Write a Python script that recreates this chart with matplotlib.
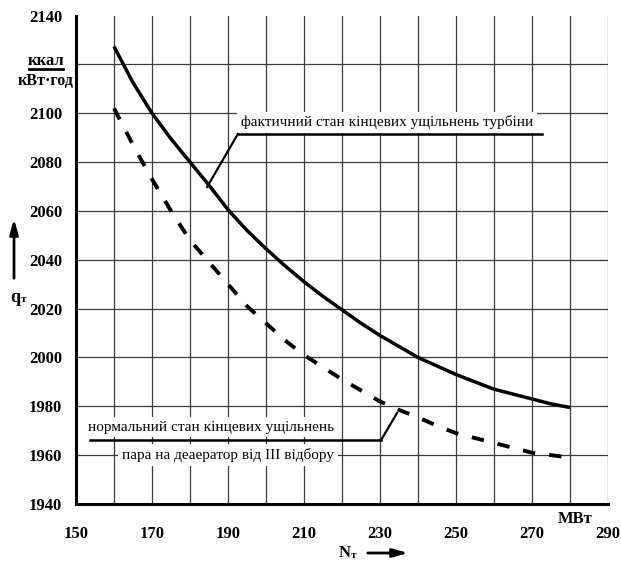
import matplotlib
matplotlib.use("Agg")
import matplotlib.pyplot as plt
from matplotlib.lines import Line2D

plt.rcParams["font.family"] = ["Liberation Serif", "DejaVu Serif"]

# фактичний стан кінцевих ущільнень турбіни
n_actual = [160, 165, 170, 175, 180, 185, 190, 195, 200, 205, 210, 215, 220,
            225, 230, 235, 240, 245, 250, 255, 260, 265, 270, 275, 280]
q_actual = [2127.3, 2112.5, 2100, 2089.5, 2080, 2070.5, 2060.5, 2052, 2044.5,
            2037.5, 2031, 2025, 2019.5, 2014, 2009, 2004.5, 2000, 1996.5, 1993,
            1990, 1987, 1985, 1983, 1981, 1979.5]

# нормальний стан кінцевих ущільнень
n_norm = [160, 165, 170, 175, 180, 185, 190, 195, 200, 205, 210, 215, 220,
          225, 230, 235, 240, 245, 250, 255, 260, 265, 270, 275, 280]
q_norm = [2102, 2087, 2073, 2060, 2048, 2039, 2030, 2021, 2014, 2007, 2001,
          1996, 1991, 1986.5, 1982, 1978.5, 1975.5, 1972, 1969, 1967, 1965,
          1963, 1961, 1960, 1959]

x_ticks = [150, 170, 190, 210, 230, 250, 270, 290]
y_ticks = [1940, 1960, 1980, 2000, 2020, 2040, 2060, 2080, 2100, 2120, 2140]
# 2120 label is replaced by the unit in the original
y_labels = ["1940", "1960", "1980", "2000", "2020", "2040", "2060", "2080",
            "2100", "", "2140"]
x_grid = list(range(160, 300, 10))
y_grid = list(range(1960, 2140, 20))

W, H = 621, 563
fig = plt.figure(figsize=(W / 100, H / 100), dpi=100)
ax = fig.add_axes([76 / W, 1 - 504 / H, 532 / W, 488.5 / H])
ax.set_xlim(150, 290)
ax.set_ylim(1940, 2140)

for x in x_grid:
    ax.axvline(x, color="#3a3a3a", lw=0.9, zorder=1)
for y in y_grid:
    ax.axhline(y, color="#3a3a3a", lw=0.9, zorder=1)

ax.plot(n_actual, q_actual, color="black", lw=2.5, zorder=5,
        solid_capstyle="butt")
ax.plot(n_norm, q_norm, color="black", lw=2.8, zorder=5,
        linestyle=(0, (3.2, 3.6)), dash_capstyle="butt")

for s in ["top", "right"]:
    ax.spines[s].set_visible(False)
for s in ["left", "bottom"]:
    ax.spines[s].set_linewidth(2.2)
    ax.spines[s].set_zorder(6)

ax.set_xticks(x_ticks)
ax.set_yticks(y_ticks, y_labels)
ax.tick_params(length=0, labelsize=12)
ax.tick_params(axis="y", pad=10)
ax.tick_params(axis="x", pad=16)
for lab in ax.get_xticklabels() + ax.get_yticklabels():
    lab.set_fontweight("bold")

box = dict(boxstyle="square,pad=0.25", fc="white", ec="none")

# annotation: actual state
ax.text(231.8, 2096.2, "фактичний стан кінцевих ущільнень турбіни",
        ha="center", va="center", fontsize=11, bbox=box, zorder=3)
ax.plot([192.6, 272.6], [2091.5, 2091.5], color="black", lw=1.8, zorder=4)
ax.plot([184.5, 192.6], [2069.8, 2091.5], color="black", lw=1.6, zorder=4)

# annotation: normal state
ax.text(185.5, 1971.5, "нормальний стан кінцевих ущільнень",
        ha="center", va="center", fontsize=11, bbox=box, zorder=3)
ax.text(190, 1960, "пара на деаератор від III відбору",
        ha="center", va="center", fontsize=11, bbox=box, zorder=3)
ax.plot([153.7, 230.3], [1966.2, 1966.2], color="black", lw=1.8, zorder=4)
ax.plot([230.3, 234.5], [1966.2, 1977.3], color="black", lw=1.6, zorder=4)

# units on y axis
fig.text(46 / W, 1 - 61 / H, "ккал", ha="center", va="center",
         fontsize=12, fontweight="bold")
fig.add_artist(Line2D([29 / W, 63 / W], [1 - 69 / H, 1 - 69 / H],
                      color="black", lw=2.0))
fig.text(46 / W, 1 - 81 / H, "кВт·год", ha="center", va="center",
         fontsize=11.5, fontweight="bold")

# q_т with arrow
fig.text(15 / W, 1 - 297 / H, "q", ha="center", va="center",
         fontsize=13, fontweight="bold")
fig.text(21 / W, 1 - 299 / H, "т", ha="left", va="center",
         fontsize=8, fontweight="bold")
ax.annotate("", xy=(14 / W, 1 - 216 / H), xytext=(14 / W, 1 - 281 / H),
            xycoords="figure fraction", textcoords="figure fraction",
            arrowprops=dict(arrowstyle="-|>,head_length=0.9,head_width=0.25",
                            color="black", lw=2.0))

# N_т with arrow
fig.text(345 / W, 1 - 553 / H, "N", ha="center", va="center",
         fontsize=12, fontweight="bold")
fig.text(351 / W, 1 - 556 / H, "т", ha="left", va="center",
         fontsize=8, fontweight="bold")
ax.annotate("", xy=(411 / W, 1 - 553 / H), xytext=(365 / W, 1 - 553 / H),
            xycoords="figure fraction", textcoords="figure fraction",
            arrowprops=dict(arrowstyle="-|>,head_length=0.9,head_width=0.25",
                            color="black", lw=2.0))

fig.text(575 / W, 1 - 519 / H, "МВт", ha="center", va="center",
         fontsize=12, fontweight="bold")

fig.savefig("out.png", dpi=100)
